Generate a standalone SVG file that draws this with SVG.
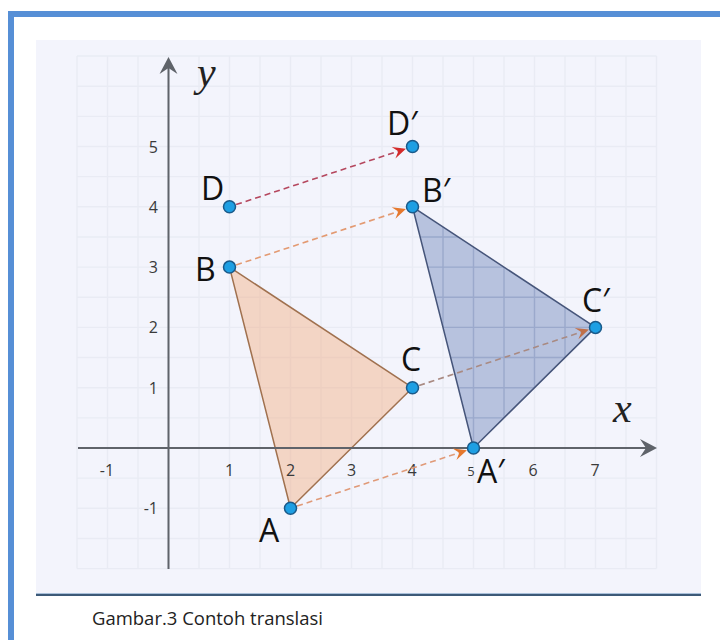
<svg xmlns="http://www.w3.org/2000/svg" width="720" height="640" viewBox="0 0 720 640">
<defs>
<style>
.grid{fill:none;stroke:#e9ebf4;stroke-width:1.4}
.gridm{fill:none;stroke:#e4e7f1;stroke-width:1.4}
.gridin{fill:none;stroke:#7f90ba;stroke-opacity:0.45;stroke-width:1.4}
.axis{fill:none;stroke:#5f636a;stroke-width:2}
.axhead{fill:#5f636a}
.tick{font-family:"Open Sans","Liberation Sans",sans-serif;font-size:16px;fill:#3a3a3a}
.lbl{font-family:"Open Sans","Liberation Sans",sans-serif;font-size:32px;fill:#111}
.var{font-family:"Liberation Serif","DejaVu Serif",serif;font-style:italic;font-size:42px;fill:#222}
.pt{fill:#1e9fe3;stroke:#1a5a8a;stroke-width:1.5}
.dash{fill:none;stroke-width:1.6;stroke-dasharray:6 4}
.cap{font-family:"Open Sans","Liberation Sans",sans-serif;font-size:18px;fill:#222}
</style>
<marker id="mRed" markerUnits="userSpaceOnUse" markerWidth="16" markerHeight="14" viewBox="-14 -7 16 14" refX="0" refY="0" orient="auto"><path d="M0,0 L-13,-6 L-8,0 L-13,6 Z" fill="#d42a2a"/></marker>
<marker id="mOrange" markerUnits="userSpaceOnUse" markerWidth="16" markerHeight="14" viewBox="-14 -7 16 14" refX="0" refY="0" orient="auto"><path d="M0,0 L-13,-6 L-8,0 L-13,6 Z" fill="#e5782e"/></marker>
<marker id="mBrown" markerUnits="userSpaceOnUse" markerWidth="16" markerHeight="14" viewBox="-14 -7 16 14" refX="0" refY="0" orient="auto"><path d="M0,0 L-13,-6 L-8,0 L-13,6 Z" fill="#c0704a"/></marker>
<clipPath id="clipBlue"><polygon points="473.5,448 412.5,206.8 595.5,327.4"/></clipPath>
<path id="gridAll" d="M77 56V568.6M107.5 56V568.6M138 56V568.6M168.5 56V568.6M199 56V568.6M229.5 56V568.6M260 56V568.6M290.5 56V568.6M321 56V568.6M351.5 56V568.6M382 56V568.6M412.5 56V568.6M443 56V568.6M473.5 56V568.6M504 56V568.6M534.5 56V568.6M565 56V568.6M595.5 56V568.6M626 56V568.6M656.5 56V568.6
M77 56.05H656.5M77 86.2H656.5M77 116.35H656.5M77 146.5H656.5M77 176.65H656.5M77 206.8H656.5M77 236.95H656.5M77 267.1H656.5M77 297.25H656.5M77 327.4H656.5M77 357.55H656.5M77 387.7H656.5M77 417.85H656.5M77 448H656.5M77 478.15H656.5M77 508.3H656.5M77 538.45H656.5M77 568.6H656.5"/>
</defs>

<rect x="0" y="0" width="720" height="640" fill="#ffffff"/>
<!-- frame -->
<rect x="8" y="11" width="712" height="6" fill="#568fd6"/>
<rect x="8" y="11" width="6" height="629" fill="#568fd6"/>

<!-- plot background -->
<rect x="36" y="40" width="665" height="555" fill="#f3f4fc"/>
<line x1="36" y1="593.5" x2="701" y2="593.5" stroke="#a9c0da" stroke-width="1"/>
<line x1="36" y1="595" x2="701" y2="595" stroke="#3d5a78" stroke-width="2"/>

<!-- grid -->
<g id="grid">
<use href="#gridAll" class="grid"/>
</g>

<!-- triangles -->
<g id="triangle-ABC">
<polygon points="290.5,508.3 229.5,267.1 412.5,387.7" fill="#f4a97a" fill-opacity="0.42" stroke="#a0714f" stroke-width="1.5" stroke-linejoin="round"/>
</g>
<g id="triangle-A1B1C1">
<polygon points="473.5,448 412.5,206.8 595.5,327.4" fill="#6f86bb" fill-opacity="0.45"/>
<g clip-path="url(#clipBlue)"><use href="#gridAll" class="gridin"/></g>
<polygon points="473.5,448 412.5,206.8 595.5,327.4" fill="none" stroke="#46557a" stroke-width="1.5" stroke-linejoin="round"/>
</g>

<!-- axes -->
<g id="axes">
<line class="axis" x1="168.5" y1="569" x2="168.5" y2="66"/>
<polygon class="axhead" points="168.5,57 177.5,74 168.5,68 159.5,74"/>
<line class="axis" x1="78" y1="448" x2="648" y2="448"/>
<polygon class="axhead" points="657,448 640,439 646,448 640,457"/>
<text class="var" x="197" y="86">y</text>
<text class="var" x="613" y="422">x</text>
</g>

<!-- tick labels -->
<g id="ticks">
<text class="tick" x="158" y="153" text-anchor="end">5</text>
<text class="tick" x="158" y="213" text-anchor="end">4</text>
<text class="tick" x="158" y="273" text-anchor="end">3</text>
<text class="tick" x="158" y="333" text-anchor="end">2</text>
<text class="tick" x="158" y="394" text-anchor="end">1</text>
<text class="tick" x="158" y="514" text-anchor="end">-1</text>
<text class="tick" x="107" y="476" text-anchor="middle">-1</text>
<text class="tick" x="229.5" y="476" text-anchor="middle">1</text>
<text class="tick" x="290.5" y="476" text-anchor="middle">2</text>
<text class="tick" x="351.5" y="476" text-anchor="middle">3</text>
<text class="tick" x="412" y="476" text-anchor="middle">4</text>
<text class="tick" x="471" y="476" text-anchor="middle" style="font-size:13px">5</text>
<text class="tick" x="533" y="476" text-anchor="middle">6</text>
<text class="tick" x="595" y="476" text-anchor="middle">7</text>
</g>

<!-- connectors -->
<g id="connectors">
<line class="dash" x1="236.1" y1="204.6" x2="405.9" y2="148.7" stroke="#b5475e" marker-end="url(#mRed)"/>
<line class="dash" x1="236.1" y1="264.9" x2="405.9" y2="209.0" stroke="#e39a72" marker-end="url(#mOrange)"/>
<line class="dash" x1="419.1" y1="385.5" x2="588.9" y2="329.6" stroke="#a98a82" marker-end="url(#mBrown)"/>
<line class="dash" x1="297.1" y1="506.1" x2="466.9" y2="450.2" stroke="#e09a78" marker-end="url(#mOrange)"/>
</g>

<!-- points -->
<g id="node-A"><circle class="pt" cx="290.5" cy="508.3" r="6"/><text class="lbl" x="259" y="542">A</text></g>
<g id="node-B"><circle class="pt" cx="229.5" cy="267.1" r="6"/><text class="lbl" x="195" y="281">B</text></g>
<g id="node-C"><circle class="pt" cx="412.5" cy="387.7" r="6"/><text class="lbl" x="401" y="371">C</text></g>
<g id="node-D"><circle class="pt" cx="229.5" cy="206.8" r="6"/><text class="lbl" x="201" y="200">D</text></g>
<g id="node-A1"><circle class="pt" cx="473.5" cy="448" r="6"/><text class="lbl" x="477" y="483">A′</text></g>
<g id="node-B1"><circle class="pt" cx="412.5" cy="206.8" r="6"/><text class="lbl" x="422" y="202">B′</text></g>
<g id="node-C1"><circle class="pt" cx="595.5" cy="327.4" r="6"/><text class="lbl" x="582" y="312">C′</text></g>
<g id="node-D1"><circle class="pt" cx="412.5" cy="146.5" r="6"/><text class="lbl" x="387" y="135">D′</text></g>

<!-- caption -->
<text class="cap" x="92" y="625" textLength="231" lengthAdjust="spacingAndGlyphs">Gambar.3 Contoh translasi</text>
</svg>
